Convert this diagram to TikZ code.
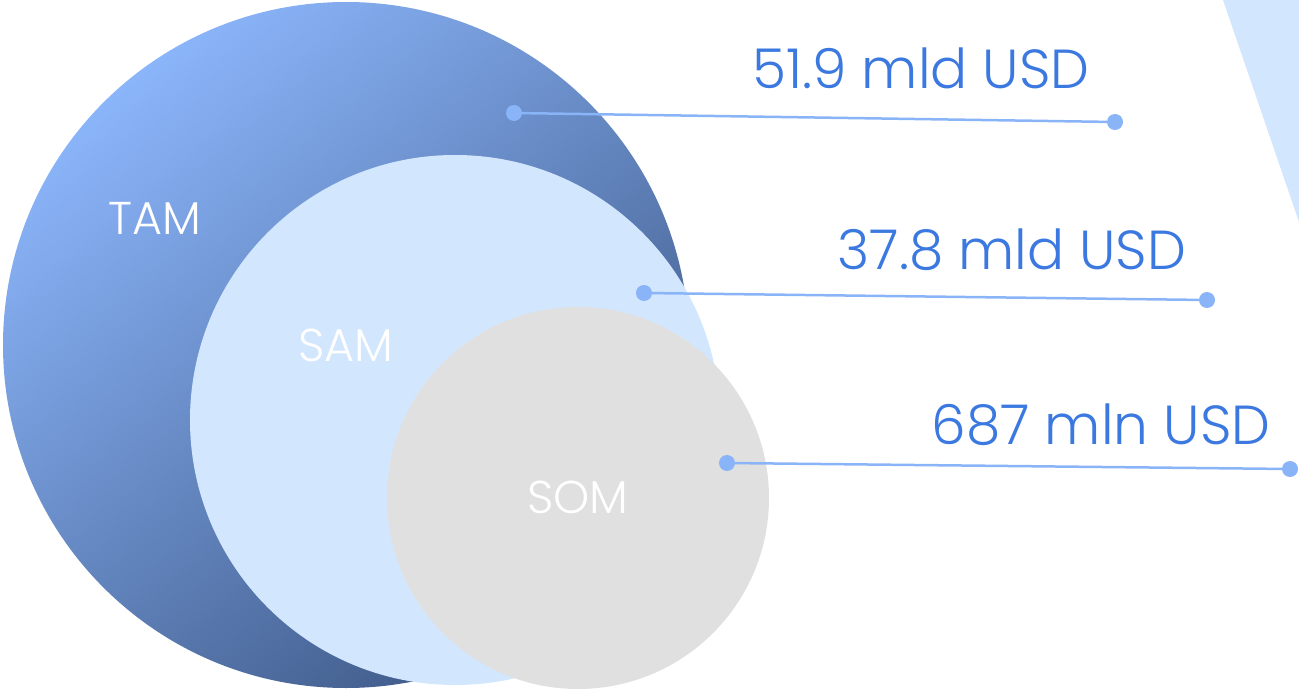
\documentclass[tikz,border=0pt]{standalone}
\usepackage{fontspec}
\setmainfont{Poppins}[UprightFont=* Light]
\begin{document}
\definecolor{tamlight}{HTML}{8BB5FA}
\definecolor{tamdark}{HTML}{3E5987}
\definecolor{samfill}{HTML}{D2E6FD}
\definecolor{somfill}{HTML}{E0E0E0}
\definecolor{dotblue}{HTML}{8AB4F8}
\definecolor{valblue}{HTML}{3B78E0}
\begin{tikzpicture}[x=1pt,y=-1pt,
  circlab/.style={text=white,font=\fontsize{46}{50}\selectfont,inner sep=0pt},
  vallab/.style={text=valblue,font=\fontsize{55}{60}\selectfont,inner sep=0pt},
  pin/.style={circle,fill=dotblue,minimum size=16pt,inner sep=0pt},
  leader/.style={draw=dotblue,line width=2.5pt}]
\useasboundingbox (0,0) rectangle (1299,690);
\fill[samfill] (1223,0) -- (1299,0) -- (1299,222) -- cycle;
\shade[top color=tamlight,bottom color=tamdark,shading angle=40] (346,345) circle[radius=343];
\fill[samfill] (455,420) circle[radius=265];
\fill[somfill] (578,498) circle[radius=191];
\node[circlab] (tam) at (155,218) {TAM};
\node[circlab] (sam) at (346,345) {SAM};
\node[circlab] (som) at (578,497) {SOM};
\node[vallab] (v1) at (921,68) {51.9 mld USD};
\node[vallab] (v2) at (1012,250) {37.8 mld USD};
\node[vallab] (v3) at (1101,425) {687 mln USD};
\node[pin] (a1) at (514,113) {};
\node[pin] (b1) at (1115,122) {};
\node[pin] (a2) at (644,293) {};
\node[pin] (b2) at (1207,300) {};
\node[pin] (a3) at (727,463) {};
\node[pin] (b3) at (1290,469) {};
\draw[leader] (a1) -- (b1);
\draw[leader] (a2) -- (b2);
\draw[leader] (a3) -- (b3);
\end{tikzpicture}
\end{document}
